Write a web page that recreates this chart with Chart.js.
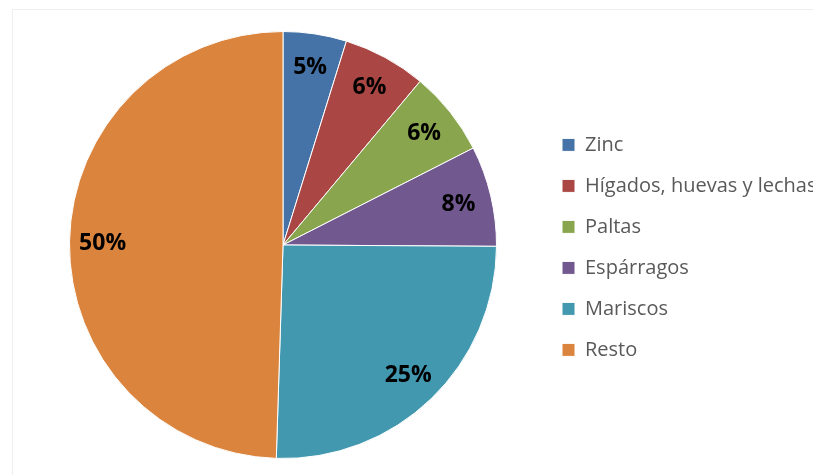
<!DOCTYPE html>
<html>
<head>
<meta charset="utf-8">
<script src="https://cdn.jsdelivr.net/npm/chart.js@4/dist/chart.umd.min.js"></script>
<style>
  html, body { margin: 0; padding: 0; background: #fff; overflow: hidden; }
  #wrap { position: relative; width: 813px; height: 475px; }
  #frame { position: absolute; left: 12px; top: 9px; right: -10px; bottom: -10px;
           border-left: 1px solid #efefef; border-top: 1px solid #efefef; }
  canvas { position: absolute; left: 0; top: 0; }
</style>
</head>
<body>
<div id="wrap">
  <div id="frame"></div>
  <canvas id="pieChart" width="813" height="475"></canvas>
</div>
<script>
// datos
var categorias = ['Zinc', 'Hígados, huevas y lechas', 'Paltas', 'Espárragos', 'Mariscos', 'Resto'];
var valores = [4.8, 6.3, 6.4, 7.6, 25.4, 49.5];
var colores = ['#4572A7', '#AA4643', '#89A54E', '#71588F', '#4198AF', '#DB843D'];

// etiquetas de porcentaje dentro de cada sector
var etiquetasPct = {
    id: 'etiquetasPct',
    afterDatasetsDraw: function (chart) {
        var ctx = chart.ctx;
        var data = chart.data.datasets[0].data;
        var total = data.reduce(function (a, b) { return a + b; }, 0);
        var meta = chart.getDatasetMeta(0);
        ctx.save();
        ctx.font = 'bold 23px "Open Sans"';
        ctx.fillStyle = '#000';
        ctx.textAlign = 'center';
        ctx.textBaseline = 'middle';
        meta.data.forEach(function (arc, i) {
            var p = arc.getProps(['x', 'y', 'startAngle', 'endAngle', 'outerRadius'], true);
            var mid = (p.startAngle + p.endAngle) / 2;
            var r = p.outerRadius * 0.845;
            var txt = Math.round(data[i] / total * 100) + '%';
            ctx.fillText(txt, p.x + Math.cos(mid) * r, p.y + Math.sin(mid) * r + 1);
        });
        ctx.restore();
    }
};

new Chart(document.getElementById('pieChart').getContext('2d'), {
    type: 'pie',
    data: {
        labels: categorias,
        datasets: [{
            data: valores,
            backgroundColor: colores,
            borderColor: '#ffffff',
            borderWidth: 1
        }]
    },
    options: {
        responsive: false,
        animation: false,
        layout: {
            padding: { left: 25, top: 31, bottom: 16, right: 0 }
        },
        plugins: {
            tooltip: { enabled: false },
            legend: {
                position: 'right',
                maxWidth: 272,
                // título vacío: sólo baja un poco la columna de la leyenda
                title: { display: true, text: ' ', padding: 0, font: { size: 4 } },
                labels: {
                    boxWidth: 13,
                    boxHeight: 13,
                    padding: 21,
                    color: '#595959',
                    font: { family: 'Open Sans', size: 20 }
                }
            }
        }
    },
    plugins: [etiquetasPct]
});
</script>
</body>
</html>
